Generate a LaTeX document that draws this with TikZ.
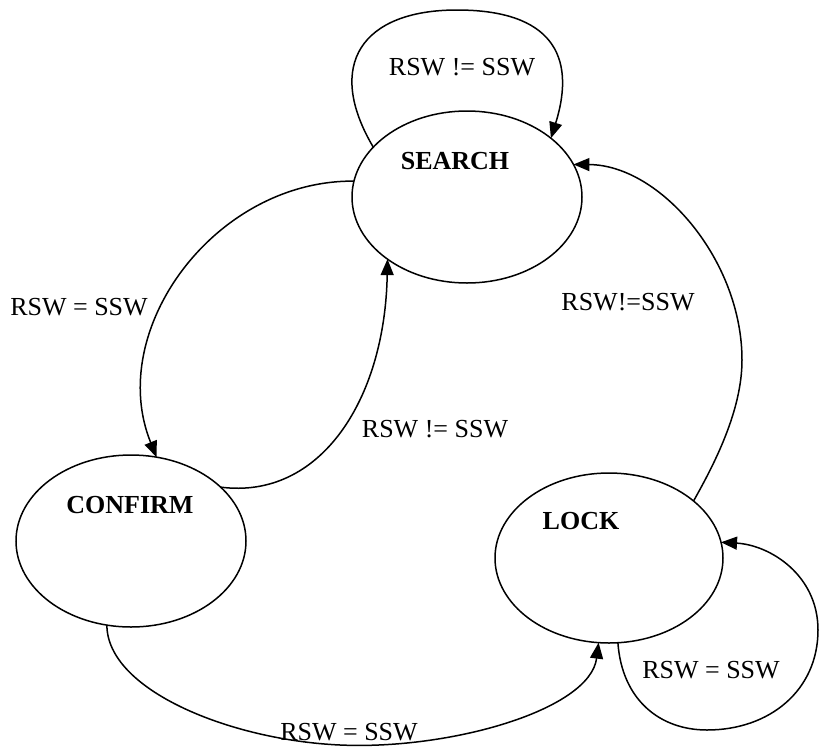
\documentclass[tikz,border=0pt]{standalone}
\usepackage{fontspec}
\setmainfont{Liberation Serif}
\usetikzlibrary{shapes.geometric,arrows.meta}
\begin{document}
\begin{tikzpicture}[x=1pt,y=-1pt,
  state/.style={draw, ellipse, line width=1.5pt, inner sep=0pt, outer sep=0pt,
    minimum width=230pt, minimum height=172pt},
  statename/.style={font=\fontsize{26}{30}\selectfont\bfseries, inner sep=0pt},
  cond/.style={font=\fontsize{26}{30}\selectfont, inner sep=0pt},
  trans/.style={line width=1.5pt, -{Triangle[length=16pt,width=13pt]}}]
\useasboundingbox (0,0) rectangle (820,748);

% states
\node[state] (search) at (467,197) {};
\node[state] (confirm) at (131,541) {};
\node[state, minimum width=228pt, minimum height=170pt] (lock) at (609,558) {};

\node[statename] (searchname) at (455,161) {SEARCH};
\node[statename] (confirmname) at (130,505) {CONFIRM};
\node[statename] (lockname) at (581,521) {LOCK};

% helper points for the self loops and the long curves
\coordinate (stop) at (457,10);
\coordinate (cbot) at (340,745);
\coordinate (lright) at (742,360);
\coordinate (lbot) at (707,730);
\coordinate (lrim) at (818,630);

% SEARCH self loop
\draw[trans] (search.152) .. controls (324.5,64.7) and (362,10) .. (stop)
  .. controls (550.7,10) and (577,55) .. (search.35);
\node[cond] (c1) at (462,67) {RSW != SSW};

% SEARCH -> CONFIRM
\draw[trans] (search.172.5) .. controls (215,180) and (105,330) .. (confirm.73);
\node[cond] (c2) at (79,307) {RSW = SSW};

% CONFIRM -> SEARCH
\draw[trans] (confirm.31) .. controls (320,500) and (385,400) .. (search.218);
\node[cond] (c3) at (435,429) {RSW != SSW};

% CONFIRM -> LOCK
\draw[trans] (confirm.254.6) .. controls (107,690) and (230,740) .. (cbot)
  .. controls (450,750) and (590,710) .. (lock.263);
\node[cond] (c4) at (349,732) {RSW = SSW};

% LOCK -> SEARCH
\draw[trans] (lock.34) .. controls (715,463) and (742,410) .. (lright)
  .. controls (742,260) and (660,165) .. (search.17.5);
\node[cond] (c5) at (628,302) {RSW!=SSW};

% LOCK self loop
\draw[trans] (lock.276) .. controls (622,700) and (660,730) .. (lbot)
  .. controls (770,730) and (818,690) .. (lrim)
  .. controls (818,575) and (770,545) .. (lock.8);
\node[cond] (c6) at (711,670) {RSW = SSW};
\end{tikzpicture}
\end{document}
